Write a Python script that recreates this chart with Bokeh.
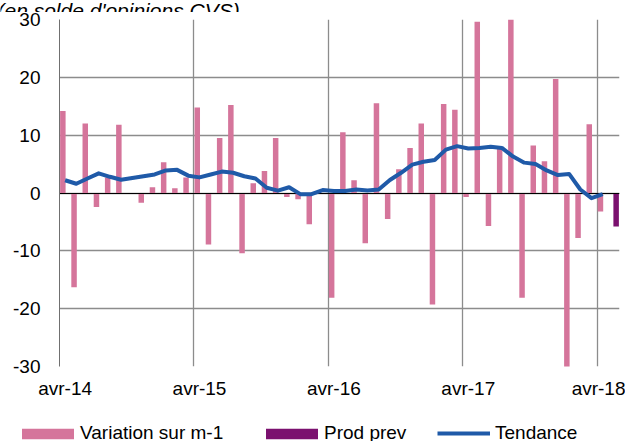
from bokeh.plotting import figure
from bokeh.models import (ColumnDataSource, FixedTicker, Range1d, Legend, LegendItem)
from bokeh.transform import dodge
from bokeh.embed import file_html
from bokeh.resources import INLINE
from bokeh.core.properties import value

# ---------------- data ----------------
MOIS = ["janv", "févr", "mars", "avr", "mai", "juin", "juil", "août", "sept", "oct", "nov", "déc"]
months = [f"{MOIS[(3 + i) % 12]}-{14 + (3 + i) // 12}" for i in range(50)]  # avr-14 .. mai-18

variation = [14.2, -16.3, 12.0, -2.4, 2.7, 11.8, 0.0, -1.7, 1.0, 5.3, 0.8, 2.7,
             14.8, -8.9, 9.5, 15.2, -10.4, 1.7, 3.8, 9.5, -0.7, -1.1, -5.4, 0.0,
             -18.1, 10.5, 2.2, -8.7, 15.5, -4.5, 4.1, 7.8, 12.0, -19.3, 15.4, 14.4,
             -0.7, 29.6, -5.7, 7.8, 30.5, -18.1, 8.2, 5.5, 19.7, -30.5, -7.8, 11.9,
             -3.2]
prod_prev = [-5.8]
tendance = [2.2, 1.6, 2.5, 3.4, 2.8, 2.3, 2.6, 2.9, 3.2, 3.9, 4.0, 3.0,
            2.7, 3.2, 3.7, 3.5, 2.9, 2.5, 0.9, 0.4, 1.0, -0.2, -0.2, 0.5,
            0.35, 0.35, 0.6, 0.45, 0.6, 2.25, 3.5, 4.9, 5.4, 5.7, 7.5, 8.1,
            7.7, 7.8, 8.0, 7.8, 6.3, 5.25, 5.0, 3.9, 3.1, 3.3, 0.6, -0.9,
            -0.2]
y_ticks = [-30, -20, -10, 0, 10, 20, 30]
tick_labels = [m for m in months if m.startswith("avr")]
series_names = ["Variation sur m-1", "Prod prev", "Tendance"]
title_text = "(en solde d'opinions CVS)"

idx = list(range(1, len(months) + 1))
n_var = len(variation)

src_var = ColumnDataSource(dict(x=idx[:n_var], v=variation))
src_prev = ColumnDataSource(dict(x=idx[n_var:n_var + len(prod_prev)], v=prod_prev))
src_tend = ColumnDataSource(dict(x=idx[:len(tendance)], t=tendance))

FONT = "Liberation Sans"
PINK = "#d5759b"
PURPLE = "#7b116f"
BLUE = "#1f5aa8"
GRID = "#8c8c8c"
W = 625

# ---- title strip (text partly cut at the top, as in the source) ----
tt = figure(width=W, height=12, output_backend="svg", toolbar_location=None,
            x_axis_type=None, y_axis_type=None, min_border=0,
            x_range=Range1d(0, W), y_range=Range1d(0, 12))
tt.outline_line_color = None
tt.text(x=[-3], y=[2.5], text=[title_text], text_font=value(FONT),
        text_font_style="italic", text_font_size="21px", text_color="black",
        text_baseline="alphabetic", text_align="left")

# ---- main chart ----
p = figure(width=W, height=397, output_backend="svg", toolbar_location=None,
           x_range=Range1d(0.5, len(months) + 0.5), y_range=Range1d(-30, 30),
           min_border_left=59, min_border_right=6, min_border_top=7, min_border_bottom=43)
p.outline_line_color = None

tick_pos = [idx[i] for i, m in enumerate(months) if m in tick_labels]
p.xaxis.ticker = FixedTicker(ticks=tick_pos)
p.xaxis.major_label_overrides = {pos: lab for pos, lab in zip(tick_pos, tick_labels)}
p.xaxis.axis_line_color = None
p.xaxis.major_tick_line_color = None
p.xaxis.minor_tick_line_color = None
p.xaxis.major_tick_out = 0
p.xaxis.major_label_standoff = 11
p.xaxis.major_label_text_font = FONT
p.xaxis.major_label_text_font_size = "19px"
p.xaxis.major_label_text_color = "black"

p.yaxis.ticker = FixedTicker(ticks=y_ticks)
p.yaxis.major_label_overrides = {t: str(t) for t in y_ticks}
p.yaxis.axis_line_color = "#707070"
p.yaxis.major_tick_line_color = None
p.yaxis.minor_tick_line_color = None
p.yaxis.major_tick_out = 0
p.yaxis.major_label_standoff = 19
p.yaxis.major_label_text_font = FONT
p.yaxis.major_label_text_font_size = "19px"
p.yaxis.major_label_text_color = "black"

p.xgrid.ticker = FixedTicker(ticks=[t - 0.5 for t in tick_pos[1:]])
p.xgrid.grid_line_color = GRID
p.xgrid.grid_line_width = 1.3
p.ygrid.grid_line_color = GRID
p.ygrid.grid_line_width = 1.3

p.vbar(x=dodge("x", -0.2), top="v", bottom=0, width=0.49, source=src_var,
       fill_color=PINK, line_color=None)
p.vbar(x=dodge("x", 0.2), top="v", bottom=0, width=0.49, source=src_prev,
       fill_color=PURPLE, line_color=None)
p.hspan(y=[0], line_color="black", line_width=1.2)
p.line("x", "t", source=src_tend, line_width=4, line_color=BLUE, line_join="round")

# ---- legend strip ----
lg = figure(width=W, height=32, output_backend="svg", toolbar_location=None,
            x_axis_type=None, y_axis_type=None, min_border=0,
            x_range=Range1d(0, 1), y_range=Range1d(0, 1))
lg.outline_line_color = None
off = ColumnDataSource(dict(x=[-10, -9], y=[-10, -10]))
k_var = lg.vbar(x="x", top="y", width=0.1, source=off, fill_color=PINK, line_color=None)
k_prev = lg.vbar(x="x", top="y", width=0.1, source=off, fill_color=PURPLE, line_color=None)
k_tend = lg.line("x", "y", source=off, line_width=4, line_color=BLUE)

# (renderer, left x, glyph width, glyph height, standoff) -- area swatches are inset 10%
legend_specs = [(k_var, 15, 65, 13, 0), (k_prev, 259, 65, 13, 0), (k_tend, 437, 53, 10, 5)]
for name, (rend, xpos, gw, gh, so) in zip(series_names, legend_specs):
    lg.add_layout(Legend(items=[LegendItem(label=name, renderers=[rend])],
                         location=(xpos, -3), orientation="horizontal",
                         glyph_width=gw, glyph_height=gh, label_standoff=so,
                         padding=0, margin=0, border_line_color=None,
                         background_fill_alpha=0, label_text_font=FONT,
                         label_text_font_size="19px", label_text_color="black"))

open("out.html", "w").write(file_html([tt, p, lg], INLINE))
